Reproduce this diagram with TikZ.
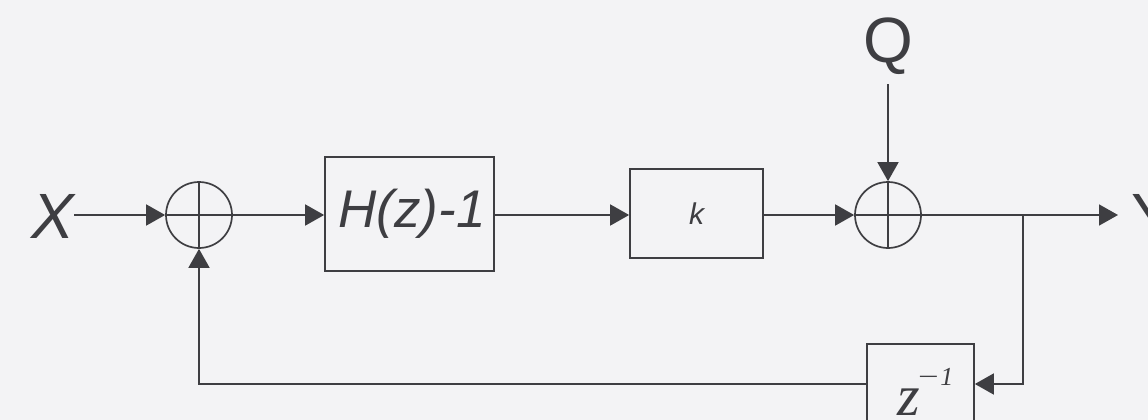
\documentclass[tikz,border=0pt]{standalone}
\usepackage{fontspec}
\setmainfont{Liberation Sans}
\newfontfamily\zfont{Liberation Serif}
\usetikzlibrary{arrows.meta}
\definecolor{bg}{RGB}{243,243,245}
\definecolor{ink}{RGB}{62,62,66}
\tikzset{
  conn/.style={draw=ink, line width=1.7pt},
  arr/.style={conn, -{Triangle[length=19pt,width=21pt]}},
  blockbox/.style={draw=ink, line width=1.7pt, inner sep=0pt, text=ink},
  sumnode/.style={circle, draw=ink, line width=1.7pt, minimum size=66pt, inner sep=0pt},
  lbl/.style={text=ink, inner sep=0pt}
}
\begin{document}
\begin{tikzpicture}[x=1pt,y=-1pt]
\fill[bg] (0,0) rectangle (1148,420);
\useasboundingbox (0,0) rectangle (1148,420);
\clip (0,0) rectangle (1148,420);

% signals
\node[lbl, anchor=base west, font=\fontsize{64}{64}\selectfont\itshape] (X) at (31,238) {X};
\node[lbl, anchor=base, font=\fontsize{64}{64}\selectfont] (Q) at (888,63) {Q};
\node[lbl, anchor=base west, font=\fontsize{64}{64}\selectfont] (Y) at (1131,238) {Y};

% sums
\node[sumnode] (s1) at (199,215) {};
\node[sumnode] (s2) at (888,215) {};
\draw[conn] (s1.north) -- (s1.south) (s1.west) -- (s1.east);
\draw[conn] (s2.north) -- (s2.south) (s2.west) -- (s2.east);

% blocks
\node[blockbox, minimum width=169pt, minimum height=114pt] (H) at (409.5,214) {};
\node[lbl, font=\fontsize{53}{53}\selectfont\itshape] (Ht) at (412,214) {H(z)-1};
\node[blockbox, minimum width=133pt, minimum height=89pt, font=\fontsize{30}{30}\selectfont\itshape] (K) at (696.5,213.5) {k};
\node[blockbox, minimum width=107pt, minimum height=80pt] (D) at (920.5,384) {};
\node[lbl, anchor=base west, font=\zfont\itshape\fontsize{58}{58}\selectfont] (Dt) at (897,415)
  {z\kern-4pt\raisebox{30pt}{\fontsize{26}{26}\selectfont\scalebox{1.4}[1]{−}1}};

% connectors
\draw[arr] (X.east |- s1) -- (s1.west);
\draw[arr] (s1.east) -- (H.west |- s1);
\draw[arr] (H.east |- s1) -- (K.west |- s1);
\draw[arr] (K.east |- s2) -- (s2.west);
\draw[arr, shorten <=9pt] (Q.south) -- (s2.north);
\draw[arr, shorten >=13pt] (s2.east) -- (Y.west |- s2);
\coordinate (br) at (1023,215);
\draw[arr] (br) |- (D.east);
\draw[arr] (D.west) -| (s1.south);
\end{tikzpicture}
\end{document}
